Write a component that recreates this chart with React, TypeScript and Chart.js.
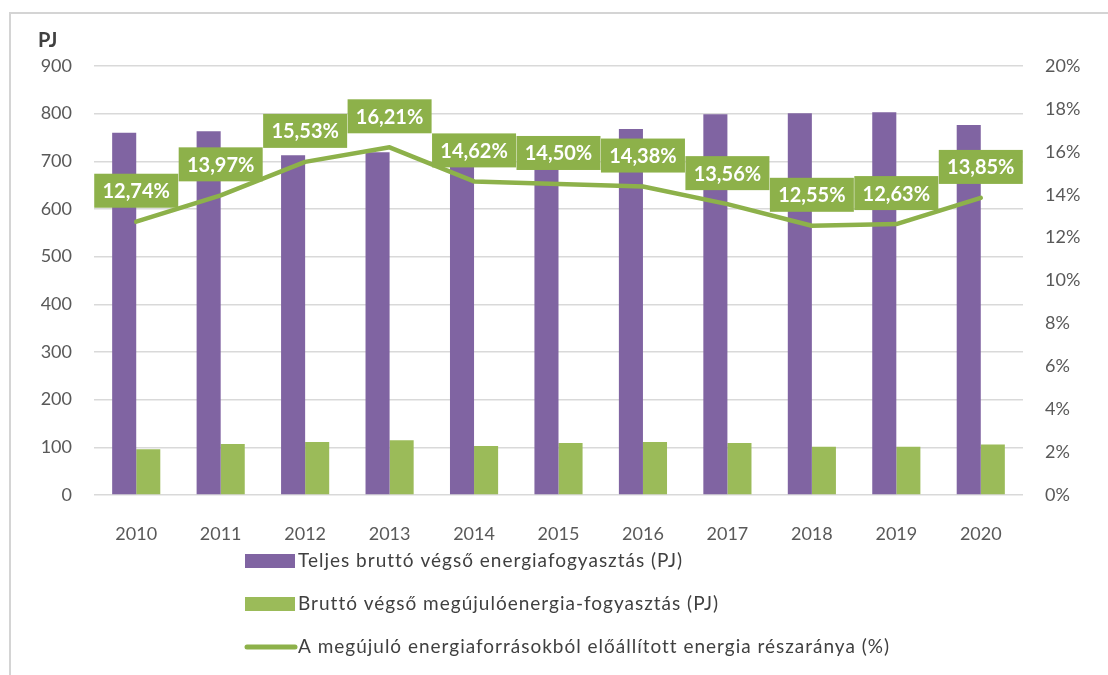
import React, { useEffect, useRef } from 'react';
import { Chart, registerables } from 'chart.js';

Chart.register(...registerables);

const years = ['2010', '2011', '2012', '2013', '2014', '2015', '2016', '2017', '2018', '2019', '2020'];
const totalConsumption = [760, 763, 713, 719, 697, 735, 768, 799, 801, 803, 776];
const renewableConsumption = [96, 107, 111, 115, 103, 109, 111, 109, 101, 101, 106];
const renewableShare = [12.74, 13.97, 15.53, 16.21, 14.62, 14.5, 14.38, 13.56, 12.55, 12.63, 13.85];
const seriesNames = [
  'Teljes bruttó végső energiafogyasztás (PJ)',
  'Bruttó végső megújulóenergia-fogyasztás (PJ)',
  'A megújuló energiaforrásokból előállított energia részaránya (%)',
];
const leftAxisTitle = 'PJ';
const leftMax = 900;
const leftStep = 100;
const rightMax = 20;
const rightStep = 2;

const PURPLE = '#8064a2';
const GREEN = '#9bbb59';
const LINE_GREEN = '#8db14a';
const TEXT = '#595959';
const GRID = '#d9d9d9';
const FONT = 'Lato, "Open Sans", sans-serif';

const fmtPct = (v: number) => v.toFixed(2).replace('.', ',') + '%';

const decorPlugin = {
  id: 'decor',
  beforeDraw(chart: any) {
    const ctx = chart.ctx;
    ctx.save();
    ctx.strokeStyle = '#d4d4d4';
    ctx.lineWidth = 2;
    ctx.beginPath();
    ctx.moveTo(10, 675);
    ctx.lineTo(10, 13);
    ctx.lineTo(1108, 13);
    ctx.stroke();
    ctx.fillStyle = '#404040';
    ctx.font = `bold 20px ${FONT}`;
    ctx.textAlign = 'left';
    ctx.textBaseline = 'middle';
    ctx.fillText(leftAxisTitle, 38, 41);
    ctx.restore();
  },
  afterDatasetsDraw(chart: any) {
    const ctx = chart.ctx;
    const meta = chart.getDatasetMeta(2);
    ctx.save();
    ctx.font = `bold 20px ${FONT}`;
    ctx.textAlign = 'center';
    ctx.textBaseline = 'middle';
    meta.data.forEach((pt: any, i: number) => {
      const w = 84;
      const h = 34;
      const bx = pt.x - w / 2;
      const by = pt.y - 14 - h;
      ctx.fillStyle = LINE_GREEN;
      ctx.fillRect(bx, by, w, h);
      ctx.fillStyle = '#ffffff';
      ctx.fillText(fmtPct(renewableShare[i]), pt.x, by + h / 2 + 1);
    });
    ctx.restore();
  },
  afterDraw(chart: any) {
    const ctx = chart.ctx;
    ctx.save();
    ctx.font = `19px ${FONT}`;
    (ctx as any).letterSpacing = '1px';
    ctx.textAlign = 'left';
    ctx.textBaseline = 'middle';
    const rows = [561, 604, 647];
    const widths = [390, 424, 592];
    ctx.fillStyle = PURPLE;
    ctx.fillRect(245, rows[0] - 7, 50, 14);
    ctx.fillStyle = GREEN;
    ctx.fillRect(245, rows[1] - 7, 50, 14);
    ctx.strokeStyle = LINE_GREEN;
    ctx.lineWidth = 5;
    ctx.lineCap = 'round';
    ctx.beginPath();
    ctx.moveTo(247, rows[2]);
    ctx.lineTo(295, rows[2]);
    ctx.stroke();
    ctx.fillStyle = '#404040';
    seriesNames.forEach((name, i) => {
      ctx.fillText(name, 298, rows[i], widths[i]);
    });
    ctx.restore();
  },
};

export default function App() {
  const ref = useRef<HTMLCanvasElement>(null);
  useEffect(() => {
    if (!ref.current) return;
    const chart = new Chart(ref.current, {
      type: 'bar',
      data: {
        labels: years,
        datasets: [
          {
            type: 'bar',
            label: seriesNames[0],
            data: totalConsumption,
            backgroundColor: PURPLE,
            yAxisID: 'y',
            order: 2,
            categoryPercentage: 0.57,
            barPercentage: 1,
          },
          {
            type: 'bar',
            label: seriesNames[1],
            data: renewableConsumption,
            backgroundColor: GREEN,
            yAxisID: 'y',
            order: 2,
            categoryPercentage: 0.57,
            barPercentage: 1,
          },
          {
            type: 'line',
            label: seriesNames[2],
            data: renewableShare,
            borderColor: LINE_GREEN,
            backgroundColor: LINE_GREEN,
            borderWidth: 4.5,
            pointRadius: 0,
            tension: 0,
            borderJoinStyle: 'round',
            borderCapStyle: 'round',
            yAxisID: 'y1',
            order: 0,
          } as any,
        ],
      },
      options: {
        responsive: false,
        animation: false,
        layout: { padding: { top: 66, left: 0, right: 0, bottom: 0 } },
        plugins: {
          legend: { display: false },
          tooltip: { enabled: false },
          title: { display: false },
        },
        scales: {
          x: {
            grid: { display: false },
            border: { display: false },
            ticks: { color: TEXT, font: { family: FONT, size: 18 }, padding: 20, maxRotation: 0 },
            afterFit: (s: any) => {
              s.height = 180;
            },
          },
          y: {
            position: 'left',
            min: 0,
            max: leftMax,
            grid: { color: GRID, lineWidth: 1.5, drawTicks: false },
            border: { display: false },
            ticks: { stepSize: leftStep, color: TEXT, font: { family: FONT, size: 18 }, padding: 22 },
            afterFit: (s: any) => {
              s.width = 94;
            },
          },
          y1: {
            position: 'right',
            min: 0,
            max: rightMax,
            grid: { display: false, drawTicks: false },
            border: { display: false },
            ticks: {
              stepSize: rightStep,
              color: TEXT,
              font: { family: FONT, size: 18 },
              padding: 22,
              callback: (v: any) => `${v}%`,
            },
            afterFit: (s: any) => {
              s.width = 85;
            },
          },
        },
      },
      plugins: [decorPlugin],
    } as any);
    return () => chart.destroy();
  }, []);
  return (
    <div style={{ position: 'absolute', left: 0, top: 0, width: 1108, height: 675, background: '#fff' }}>
      <canvas ref={ref} width={1108} height={675} style={{ display: 'block' }} />
    </div>
  );
}
